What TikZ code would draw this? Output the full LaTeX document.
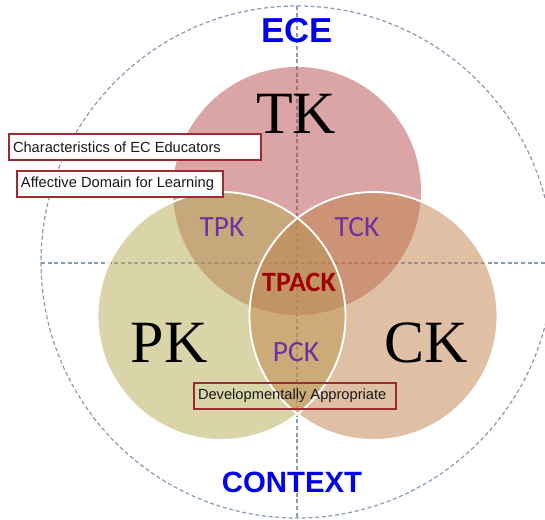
\documentclass[tikz,border=0pt]{standalone}
\usepackage{fontspec}
\setmainfont{Liberation Serif}
\newfontfamily\arialf{Liberation Sans}
\newfontfamily\calib{Carlito}
\definecolor{tkc}{RGB}{185,75,75}
\definecolor{pkc}{RGB}{179,171,83}
\definecolor{ckc}{RGB}{191,129,75}
\definecolor{guide}{RGB}{135,155,180}
\definecolor{boxred}{RGB}{155,45,50}
\definecolor{subc}{RGB}{112,48,160}
\definecolor{tpackc}{RGB}{160,0,0}
\definecolor{blueT}{RGB}{0,0,240}
\tikzset{
  guideline/.style={draw=guide, line width=0.9pt, dash pattern=on 3pt off 2pt},
  setfill/.style={fill=#1, fill opacity=0.5, draw=none},
  setedge/.style={draw=white, line width=1.4pt},
  bigtxt/.style={font=\fontsize{45}{50}\selectfont, text=black, inner sep=0pt},
  subtxt/.style={font=\calib\fontsize{22}{24}\selectfont, text=subc, inner sep=0pt},
  headtxt/.style={font=\arialf\bfseries, text=blueT, inner sep=0pt},
  notebox/.style={draw=boxred, line width=1.5pt, inner xsep=3pt, inner ysep=0pt,
    font=\arialf\fontsize{11}{13}\selectfont, anchor=west, text=black!90}
}
\begin{document}
\begin{tikzpicture}[x=0.75pt,y=-0.75pt]
\useasboundingbox (0,0) rectangle (545,520);
% guide circle and axes
\coordinate (o) at (297,262);
\draw[guideline] (o) circle (256);
\coordinate (vt) at (297,6);
\coordinate (vb) at (297,518);
\coordinate (hl) at (41,263);
\coordinate (hr) at (545,263);
\draw[guideline] (vt) -- (vb);
\draw[guideline] (hl) -- (hr);
% three sets
\coordinate (ctk) at (297,191);
\coordinate (cpk) at (221.5,316);
\coordinate (cck) at (373.5,316);
\fill[setfill=tkc] (ctk) circle (124);
\fill[setfill=pkc] (cpk) circle (124);
\fill[setfill=ckc] (cck) circle (124);
\draw[setedge] (cpk) circle (124);
\draw[setedge] (cck) circle (124);
% labels
\node[headtxt, font=\arialf\bfseries\fontsize{26}{28}\selectfont] (ece) at (297,31) {ECE};
\node[headtxt, font=\arialf\bfseries\fontsize{22}{24}\selectfont] (ctx) at (292,482) {CONTEXT};
\node[bigtxt] (tk) at (296,114) {TK};
\node[bigtxt] (pk) at (169,343) {PK};
\node[bigtxt] (ck) at (426,343) {CK};
\node[subtxt] (tpk) at (222,227) {TPK};
\node[subtxt] (tck) at (357,227) {TCK};
\node[subtxt] (pck) at (296,352) {PCK};
\node[font=\calib\bfseries\fontsize{21}{24}\selectfont, text=tpackc, inner sep=0pt] (tpack) at (299,282) {TPACK};
% note boxes
\node[notebox, fill=white, minimum height=19.5pt] (b1) at (8,147) {\makebox[183pt][l]{Characteristics of EC Educators}};
\node[notebox, fill=white, minimum height=19.5pt] (b2) at (16,184) {\makebox[148.5pt][l]{Affective Domain for Learning}};
\node[notebox, minimum height=20pt] (b3) at (193,396) {\makebox[145.5pt][l]{Developmentally Appropriate}};
\end{tikzpicture}
\end{document}
